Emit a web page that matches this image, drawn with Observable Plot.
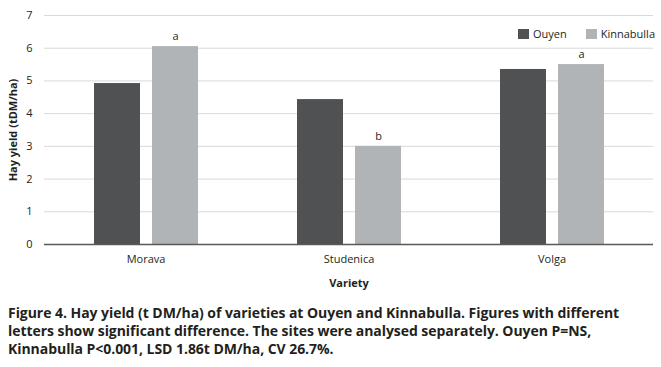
<!DOCTYPE html>
<html>
<head>
<meta charset="utf-8">
<script src="https://cdn.jsdelivr.net/npm/d3@7"></script>
<script src="https://cdn.jsdelivr.net/npm/@observablehq/plot@0.6"></script>
<style>
  html, body { margin: 0; padding: 0; background: #fff; }
  #wrap { position: relative; width: 661px; height: 367px; font-family: "Open Sans", sans-serif; color: #231f20; }
  #legend { position: absolute; top: 26px; left: 518px; font-size: 11px; display: flex; align-items: center; }
  #legend .sw { display: inline-block; width: 11px; height: 10px; margin-right: 4px; }
  #legend .item { display: flex; align-items: center; margin-right: 19px; }
  #caption { position: absolute; left: 8px; top: 304px; font-size: 14px; font-weight: 700; line-height: 18px; letter-spacing: -0.05px; white-space: nowrap; }
</style>
</head>
<body>
<div id="wrap">
  <div id="chart"></div>
  <div id="legend"></div>
  <div id="caption">Figure 4. Hay yield (t DM/ha) of varieties at Ouyen and Kinnabulla. Figures with different<br>letters show significant difference. The sites were analysed separately. Ouyen P=NS,<br>Kinnabulla P&lt;0.001, LSD 1.86t DM/ha, CV 26.7%.</div>
</div>
<script>
const varieties = ["Morava", "Studenica", "Volga"];
const sites = ["Ouyen", "Kinnabulla"];
const ouyen = [4.92, 4.43, 5.35];
const kinnabulla = [6.05, 3.0, 5.5];
const letters = ["a", "b", "a"];
const yTicks = [0, 1, 2, 3, 4, 5, 6, 7];
const colors = ["#505153", "#b1b4b6"];

const data = varieties.flatMap((v, i) => [
  {variety: v, site: "Ouyen", value: ouyen[i]},
  {variety: v, site: "Kinnabulla", value: kinnabulla[i], letter: letters[i]}
]);

const chart = Plot.plot({
  width: 661,
  height: 295,
  marginLeft: 43,
  marginRight: 8,
  marginTop: 15,
  marginBottom: 51,
  style: {fontFamily: "Open Sans, sans-serif", fontSize: "11px", color: "#231f20"},
  fx: {domain: varieties, padding: 0, label: null},
  x: {domain: sites, axis: null, paddingInner: 0.207, paddingOuter: 0.853},
  y: {domain: [0, 7]},
  color: {domain: sites, range: colors},
  marks: [
    Plot.gridY(yTicks, {stroke: "#d9d9d9", strokeOpacity: 1, strokeWidth: 1}),
    Plot.axisY(yTicks, {tickSize: 0, tickPadding: 12, label: "Hay yield (tDM/ha)", labelAnchor: "center", labelArrow: false, labelOffset: 35, fontSize: 11}),
    Plot.axisFx({anchor: "bottom", tickSize: 0, tickPadding: 11, label: "Variety", labelAnchor: "center", labelArrow: false, labelOffset: 42, fontSize: 11}),
    Plot.barY(data, {fx: "variety", x: "site", y: "value", fill: "site"}),
    Plot.ruleY([0], {stroke: "#595959", strokeWidth: 1.5}),
    Plot.text(data.filter(d => d.letter), {fx: "variety", x: "site", y: "value", text: "letter", dy: -10, fontSize: 11, fill: "#231f20"})
  ]
});
chart.querySelectorAll("[aria-label='y-axis label'] text, [aria-label='fx-axis label'] text").forEach(t => t.setAttribute("font-weight", "bold"));
document.getElementById("chart").appendChild(chart);

const legend = document.getElementById("legend");
sites.forEach((s, i) => {
  const item = document.createElement("span");
  item.className = "item";
  const sw = document.createElement("span");
  sw.className = "sw";
  sw.style.background = colors[i];
  item.appendChild(sw);
  item.appendChild(document.createTextNode(s));
  legend.appendChild(item);
});
</script>
</body>
</html>
